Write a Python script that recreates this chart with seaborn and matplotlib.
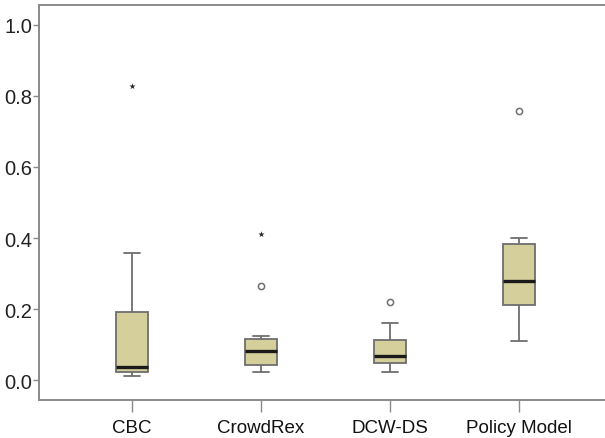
import pandas as pd
import matplotlib.pyplot as plt
import seaborn as sns

# Five-number summaries (SPSS style boxplot)
groups = ["CBC", "CrowdRex", "DCW-DS", "Policy Model"]
whisker_low = [0.012, 0.022, 0.022, 0.110]
q1 = [0.022, 0.043, 0.049, 0.211]
median = [0.036, 0.081, 0.068, 0.278]
q3 = [0.193, 0.115, 0.114, 0.384]
whisker_high = [0.358, 0.124, 0.160, 0.400]

# outliers (circle) and extreme values (star)
outlier_group = ["CrowdRex", "DCW-DS", "Policy Model"]
outlier_value = [0.264, 0.219, 0.758]
extreme_group = ["CBC", "CrowdRex"]
extreme_value = [0.828, 0.410]

yticks = [0.0, 0.2, 0.4, 0.6, 0.8, 1.0]

rows = []
for g, lo, a, m, b, hi in zip(groups, whisker_low, q1, median, q3, whisker_high):
    for v in (lo, a, m, b, hi):
        rows.append({"group": g, "value": v})
df = pd.DataFrame(rows)

sns.set_style("white")
plt.rcParams["font.family"] = ["Liberation Sans", "DejaVu Sans"]

fig = plt.figure(figsize=(6.05, 4.39), dpi=100)
ax = fig.add_axes([39 / 605, 1 - 401 / 439, 1 - 39 / 605, 395 / 439])

edge = "#6e6e6e"
sns.boxplot(
    data=df, x="group", y="value", order=groups, ax=ax,
    whis=(0, 100), width=0.25, color="#d5d09b", saturation=1,
    linecolor=edge, linewidth=1.3, showfliers=False,
    medianprops=dict(color="#1a1a1a", linewidth=2.4),
)

out_df = pd.DataFrame({"group": outlier_group, "value": outlier_value})
ext_df = pd.DataFrame({"group": extreme_group, "value": extreme_value})
pos = {g: i for i, g in enumerate(groups)}
ax.scatter(out_df["group"].map(pos), out_df["value"], s=20, marker="o",
           facecolors="white", edgecolors="#707070", linewidths=1.1, zorder=3)
ax.scatter(ext_df["group"].map(pos), ext_df["value"], s=22, marker="*",
           color="#2a2a2a", linewidths=0, zorder=3)

ax.set_xlim(-0.721, 3.667)
ax.set_ylim(-0.056, 1.056)
ax.set_yticks(yticks)
ax.set_yticklabels([f"{t:.1f}" for t in yticks])
ax.set_xlabel("")
ax.set_ylabel("")

for side in ("left", "bottom", "top"):
    ax.spines[side].set_color("#8a8a8a")
    ax.spines[side].set_linewidth(1.4)
ax.spines["right"].set_visible(False)

ax.tick_params(axis="y", direction="out", length=4, width=1, color="#8a8a8a",
               pad=1, labelsize=14.5, labelcolor="#222222", left=True)
ax.tick_params(axis="x", direction="out", length=8.5, width=1, color="#8a8a8a",
               pad=5, labelsize=13.5, labelcolor="#111111", bottom=True)

fig.savefig("out.png", dpi=100)
